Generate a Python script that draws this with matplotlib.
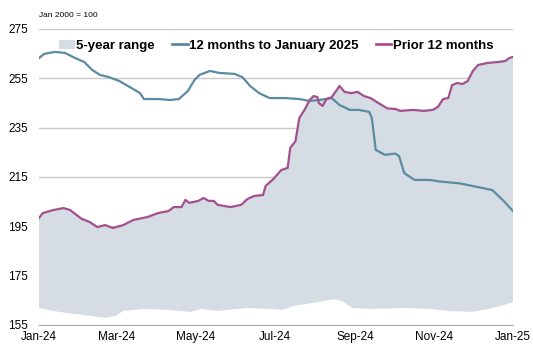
import numpy as np
import pandas as pd
import matplotlib
matplotlib.use("Agg")
import matplotlib.pyplot as plt
import matplotlib.dates as mdates
from matplotlib.patches import Patch
from matplotlib.lines import Line2D

plt.rcParams['font.family'] = ['Liberation Sans', 'DejaVu Sans']

# 12 months to January 2025 (index, Jan 2000 = 100)
recent_dates = ['2024-01-01', '2024-01-05', '2024-01-13', '2024-01-21', '2024-01-29',
                '2024-02-05', '2024-02-11', '2024-02-17', '2024-02-24', '2024-03-03',
                '2024-03-11', '2024-03-19', '2024-03-22', '2024-04-03', '2024-04-11',
                '2024-04-18', '2024-04-25', '2024-04-30', '2024-05-04', '2024-05-12',
                '2024-05-19', '2024-05-31', '2024-06-06', '2024-06-12', '2024-06-19',
                '2024-06-27', '2024-07-09', '2024-07-20', '2024-07-28', '2024-08-04',
                '2024-08-14', '2024-08-20', '2024-08-28', '2024-09-04', '2024-09-12',
                '2024-09-14', '2024-09-17', '2024-09-24', '2024-10-02', '2024-10-05',
                '2024-10-09', '2024-10-17', '2024-10-29', '2024-11-05', '2024-11-21',
                '2024-12-04', '2024-12-16', '2024-12-24', '2025-01-01']
recent_vals = [263.2, 264.9, 265.7, 265.3, 263.2,
               261.6, 258.4, 256.4, 255.5, 253.9,
               251.5, 249.0, 246.6, 246.6, 246.2,
               246.6, 249.9, 254.3, 256.4, 258.0,
               257.2, 256.8, 255.5, 251.9, 249.0,
               247.0, 247.0, 246.6, 245.8, 246.2,
               247.0, 244.2, 242.2, 242.2, 241.4,
               238.9, 226.0, 224.0, 224.5, 223.5,
               216.6, 213.8, 213.8, 213.2, 212.4,
               211.0, 209.7, 205.7, 201.2]

# Prior 12 months
prior_dates = ['2024-01-01', '2024-01-04', '2024-01-12', '2024-01-20', '2024-01-25',
               '2024-01-30', '2024-02-03', '2024-02-09', '2024-02-15', '2024-02-21',
               '2024-02-27', '2024-03-06', '2024-03-14', '2024-03-25', '2024-04-02',
               '2024-04-10', '2024-04-14', '2024-04-20', '2024-04-23', '2024-04-26',
               '2024-05-03', '2024-05-07', '2024-05-11', '2024-05-15', '2024-05-18',
               '2024-05-28', '2024-06-05', '2024-06-10', '2024-06-15', '2024-06-22',
               '2024-06-24', '2024-06-30', '2024-07-06', '2024-07-11', '2024-07-13',
               '2024-07-17', '2024-07-20', '2024-07-24', '2024-07-28', '2024-07-31',
               '2024-08-03', '2024-08-04', '2024-08-07', '2024-08-10', '2024-08-14',
               '2024-08-18', '2024-08-20', '2024-08-24', '2024-08-29', '2024-09-03',
               '2024-09-08', '2024-09-13', '2024-09-19', '2024-09-26', '2024-10-02',
               '2024-10-06', '2024-10-16', '2024-10-24', '2024-10-31', '2024-11-04',
               '2024-11-08', '2024-11-12', '2024-11-15', '2024-11-19', '2024-11-23',
               '2024-11-27', '2024-12-01', '2024-12-05', '2024-12-12', '2024-12-20',
               '2024-12-26', '2024-12-29', '2025-01-01']
prior_vals = [198.4, 200.4, 201.6, 202.4, 201.6,
              199.6, 198.0, 196.8, 194.7, 195.5,
              194.3, 195.5, 197.6, 198.8, 200.4,
              201.2, 202.8, 202.8, 205.7, 204.5,
              205.3, 206.5, 205.3, 205.3, 203.7,
              202.8, 203.7, 206.1, 207.3, 207.7,
              211.4, 214.2, 217.8, 218.7, 226.8,
              229.5, 238.9, 242.2, 246.2, 247.8,
              247.4, 245.0, 243.8, 246.6, 247.4,
              250.3, 251.9, 249.5, 249.0, 249.5,
              247.8, 247.0, 245.0, 242.8, 242.6,
              241.8, 242.2, 241.8, 242.2, 243.4,
              246.6, 247.0, 252.3, 253.1, 252.7,
              253.9, 258.0, 260.4, 261.2, 261.6,
              262.0, 263.2, 263.7]

# 5-year range: upper edge
high_dates = prior_dates
high_vals = [198.4, 200.4, 201.6, 202.4, 201.8,
             200.2, 198.4, 196.8, 194.7, 195.5,
             194.3, 195.5, 197.6, 198.8, 200.4,
             201.2, 202.8, 202.8, 205.7, 204.5,
             205.3, 206.5, 205.3, 205.3, 203.7,
             202.8, 203.7, 206.1, 207.3, 207.7,
             211.4, 214.2, 217.8, 218.7, 226.8,
             229.5, 238.9, 242.2, 246.2, 247.8,
             247.4, 246.2, 246.2, 246.8, 247.4,
             250.3, 251.9, 249.5, 249.0, 249.5,
             247.8, 247.0, 245.0, 242.8, 242.6,
             241.8, 242.2, 241.8, 242.2, 243.4,
             246.6, 247.0, 252.3, 253.1, 252.7,
             253.9, 258.0, 260.4, 261.2, 261.6,
             262.0, 263.2, 263.7]

# 5-year range: lower edge
low_dates = ['2024-01-01', '2024-01-12', '2024-01-22', '2024-02-04', '2024-02-15',
             '2024-02-22', '2024-02-29', '2024-03-06', '2024-03-21', '2024-04-10',
             '2024-04-27', '2024-05-05', '2024-05-18', '2024-06-10', '2024-06-27',
             '2024-07-07', '2024-07-15', '2024-07-30', '2024-08-16', '2024-08-22',
             '2024-08-30', '2024-09-14', '2024-10-09', '2024-10-30', '2024-11-12',
             '2024-11-30', '2024-12-13', '2024-12-25', '2025-01-01']
low_vals = [161.9, 160.7, 159.9, 159.1, 158.3,
            157.9, 158.7, 160.7, 161.5, 161.1,
            160.3, 161.5, 160.7, 161.9, 161.5,
            161.1, 162.7, 163.9, 165.5, 164.7,
            161.9, 161.5, 161.9, 161.5, 160.7,
            160.3, 161.5, 163.1, 164.3]

y_ticks = [155, 175, 195, 215, 235, 255, 275]

BLUE = '#5b8ba0'
PURPLE = '#a3508f'
FILL = '#d5dce3'

hi_x = pd.to_datetime(high_dates)
lo_x = pd.to_datetime(low_dates)

fig = plt.figure(figsize=(5.33, 3.48), dpi=100)
ax = fig.add_axes([0.0732, 0.0661, 0.8893, 0.8506])

ax.fill(np.concatenate([hi_x.values, lo_x.values[::-1]]),
        np.concatenate([high_vals, low_vals[::-1]]),
        color=FILL, lw=0, zorder=1)
ax.plot(pd.to_datetime(recent_dates), recent_vals, color=BLUE, lw=1.6, zorder=3)
ax.plot(pd.to_datetime(prior_dates), prior_vals, color=PURPLE, lw=1.6, zorder=4)

ax.set_ylim(155, 275)
ax.set_xlim(pd.Timestamp('2024-01-01'), pd.Timestamp('2025-01-01'))
ax.set_yticks(y_ticks)
ax.yaxis.grid(True, color='#c8c8c8', lw=1)
ax.set_axisbelow(True)
ax.xaxis.set_major_locator(mdates.MonthLocator(bymonth=[1, 3, 5, 7, 9, 11]))
ax.xaxis.set_major_formatter(mdates.DateFormatter('%b-%y'))
ax.tick_params(length=0, labelsize=8.5, colors='black')
ax.tick_params(axis='y', pad=8)
ax.tick_params(axis='x', pad=4)
for side in ['left', 'right', 'top']:
    ax.spines[side].set_visible(False)
ax.spines['bottom'].set_color('#b0b0b0')

fig.text(0.073, 0.955, 'Jan 2000 = 100', fontsize=6, va='center', ha='left')

handles = [Patch(facecolor=FILL, edgecolor='none'),
           Line2D([], [], color=BLUE, lw=2),
           Line2D([], [], color=PURPLE, lw=2)]
labels = ['5-year range', '12 months to January 2025', 'Prior 12 months']
ax.legend(handles, labels, loc='upper center', bbox_to_anchor=(0.5, 0.995), ncol=3,
          frameon=False, prop={'weight': 'bold', 'size': 9.5},
          handlelength=1.2, handletextpad=0.1, columnspacing=1.3, borderaxespad=0.3)

fig.savefig('out.png', dpi=100)
